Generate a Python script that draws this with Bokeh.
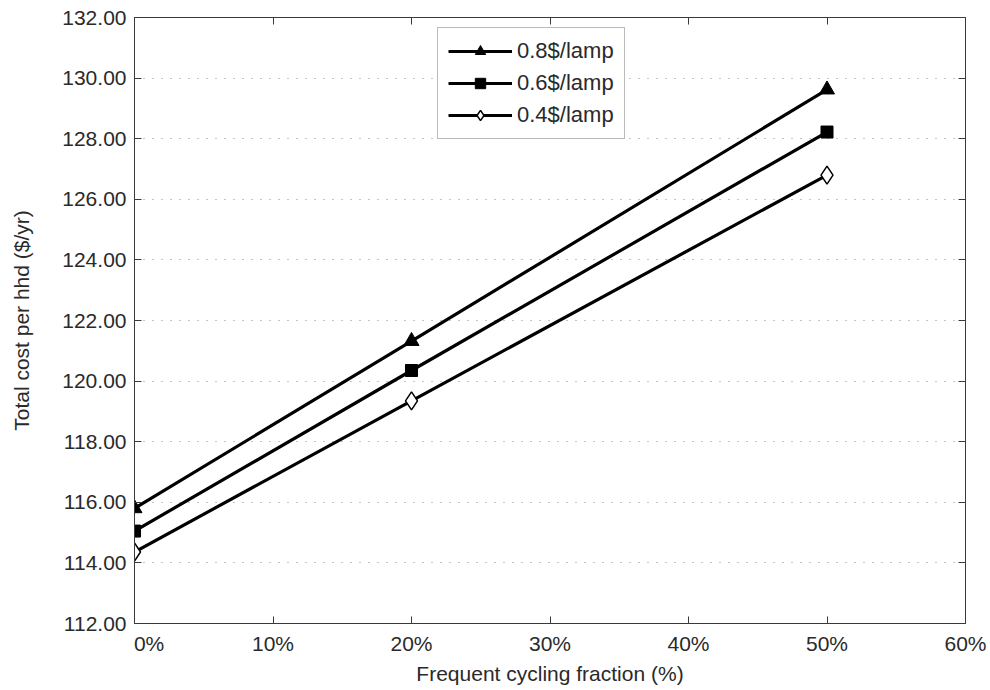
from bokeh.plotting import figure
from bokeh.models import Range1d, LinearAxis, FixedTicker, Legend, LegendItem
from bokeh.embed import file_html
from bokeh.resources import INLINE

# data
fraction_pct = [0, 20, 50]
cost_08 = [115.80, 121.32, 129.62]
cost_06 = [115.05, 120.35, 128.22]
cost_04 = [114.36, 119.35, 126.80]
series_labels = ["0.8$/lamp", "0.6$/lamp", "0.4$/lamp"]
x_ticks = [0, 10, 20, 30, 40, 50, 60]
y_ticks = [112, 114, 116, 118, 120, 122, 124, 126, 128, 130, 132]

FONT = "Liberation Sans"
AX = "#3a3a3a"
FS = "21px"

p = figure(width=990, height=690, output_backend="svg", toolbar_location=None,
           x_range=Range1d(0, 60), y_range=Range1d(112, 132),
           min_border_left=134, min_border_right=25, min_border_top=17, min_border_bottom=67)
p.background_fill_color = "white"
p.border_fill_color = "white"
p.outline_line_color = AX
p.outline_line_width = 1

p.xgrid.visible = False
p.ygrid.ticker = FixedTicker(ticks=y_ticks)
p.ygrid.grid_line_color = "#8a8a8a"
p.ygrid.grid_line_dash = "1 8"
p.ygrid.grid_line_width = 1.2

def style_axis(ax, show_labels=True):
    ax.axis_line_color = AX
    ax.axis_line_width = 1
    ax.major_tick_in = 7
    ax.major_tick_out = 0
    ax.major_tick_line_color = AX
    ax.minor_tick_line_color = None
    ax.major_label_text_font = FONT
    ax.major_label_text_font_size = FS
    ax.major_label_text_color = "#2a2a2a"
    ax.axis_label_text_font = FONT
    ax.axis_label_text_font_size = FS
    ax.axis_label_text_font_style = "normal"
    ax.axis_label_text_color = "#2a2a2a"
    if not show_labels:
        ax.major_label_text_font_size = "0px"
        ax.major_label_text_color = None

xa = p.xaxis[0]
xa.ticker = FixedTicker(ticks=x_ticks)
xa.major_label_overrides = {t: f"{t}%" for t in x_ticks}
xa.major_label_overrides[0] = "\u00a0\u00a0\u00a0\u00a0\u00a00%"
xa.axis_label = "Frequent cycling fraction (%)"
xa.major_label_standoff = 8
xa.axis_label_standoff = 4
style_axis(xa)

ya = p.yaxis[0]
ya.ticker = FixedTicker(ticks=y_ticks)
ya.major_label_overrides = {t: f"{t:.2f}" for t in y_ticks}
ya.axis_label = "Total cost per hhd ($/yr)"
ya.major_label_standoff = 8
ya.axis_label_standoff = 26
style_axis(ya)

top = LinearAxis(ticker=FixedTicker(ticks=x_ticks))
style_axis(top, show_labels=False)
p.add_layout(top, "above")
right = LinearAxis(ticker=FixedTicker(ticks=y_ticks))
style_axis(right, show_labels=False)
p.add_layout(right, "right")
p.min_border_top = 17
p.min_border_right = 25

LW = 3.2
l1 = p.line(fraction_pct, cost_08, line_color="black", line_width=LW)
m1 = p.scatter(fraction_pct, cost_08, marker="triangle", size=15, fill_color="black", line_color="black")
l2 = p.line(fraction_pct, cost_06, line_color="black", line_width=LW)
m2 = p.scatter(fraction_pct, cost_06, marker="square", size=12, fill_color="black", line_color="black")
l3 = p.line(fraction_pct, cost_04, line_color="black", line_width=LW)
m3 = p.scatter(fraction_pct, cost_04, marker="diamond", size=18, fill_color="white", line_color="black", line_width=1.5)

legend = Legend(items=[LegendItem(label=series_labels[0], renderers=[l1, m1]),
                       LegendItem(label=series_labels[1], renderers=[l2, m2]),
                       LegendItem(label=series_labels[2], renderers=[l3, m3])],
                location=(303, 484))
legend.label_text_font = FONT
legend.label_text_font_size = "22px"
legend.label_text_color = "#2a2a2a"
legend.glyph_width = 64
legend.glyph_height = 26
legend.label_height = 26
legend.label_standoff = 5
legend.spacing = 6
legend.padding = 10
legend.margin = 0
legend.border_line_color = "#777777"
legend.border_line_width = 1
legend.background_fill_color = "white"
legend.background_fill_alpha = 1
p.add_layout(legend, "center")

open("out.html", "w").write(file_html(p, INLINE))
